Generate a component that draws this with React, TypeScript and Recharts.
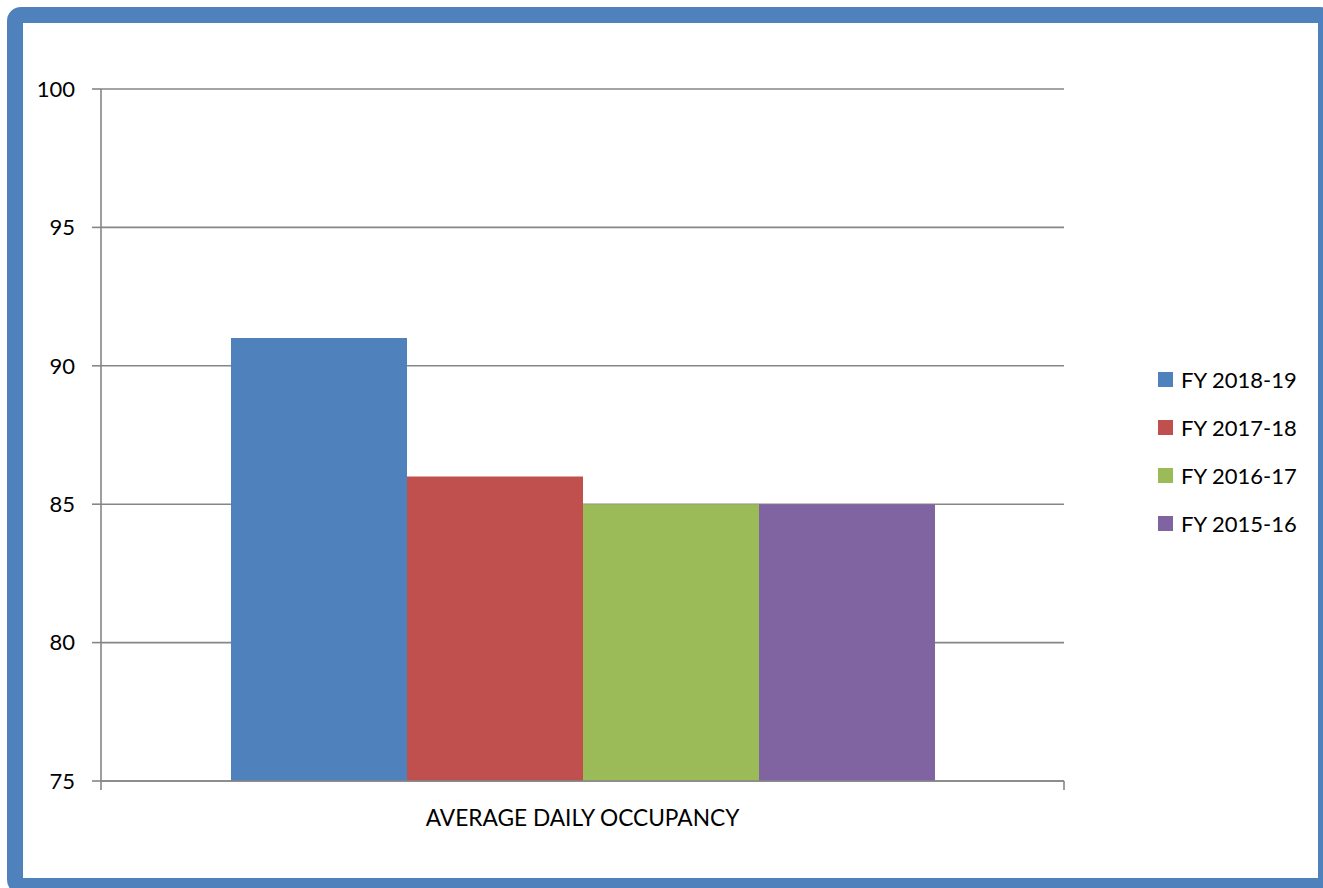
import React from 'react'
import { BarChart, Bar, XAxis, YAxis, CartesianGrid, Legend } from 'recharts'

const categories = ['AVERAGE DAILY OCCUPANCY']
const seriesNames = ['FY 2018-19', 'FY 2017-18', 'FY 2016-17', 'FY 2015-16']
const seriesValues = [91, 86, 85, 85]
const seriesColors = ['#4F81BD', '#C0504D', '#9BBB59', '#8064A2']
const yTicks = [75, 80, 85, 90, 95, 100]

const data = categories.map((name) => {
  const row: Record<string, string | number> = { name }
  seriesNames.forEach((s, i) => { row[s] = seriesValues[i] })
  return row
})

const font = 'Lato, "Open Sans", sans-serif'
const grey = '#868686'
const gap = 29

// category label plus the tick marks at both ends of the category band
const CategoryTick = (props: any) => {
  const { x, y, width, payload } = props
  const band = width / categories.length
  const left = x - band / 2
  const right = x + band / 2
  return (
    <g>
      <line x1={left} x2={left} y1={y - gap} y2={y - gap + 9} stroke={grey} strokeWidth={1.6} />
      <line x1={right} x2={right} y1={y - gap} y2={y - gap + 9} stroke={grey} strokeWidth={1.6} />
      <text x={x} y={y} dy="0.71em" textAnchor="middle" fill="#000" fontSize={22.7} fontFamily={font}>
        {payload.value}
      </text>
    </g>
  )
}

const LegendBox = () => (
  <div style={{ paddingLeft: 94, paddingTop: 15, fontFamily: font, fontSize: 22, color: '#000' }}>
    {seriesNames.map((s, i) => (
      <div key={s} style={{ height: 47.8, display: 'flex', alignItems: 'center' }}>
        <span style={{ width: 15, height: 15, background: seriesColors[i], marginRight: 8, display: 'inline-block' }} />
        <span>{s}</span>
      </div>
    ))}
  </div>
)

export default function App() {
  return (
    <div style={{ position: 'absolute', left: 0, top: 0, width: 1323, height: 888, overflow: 'hidden', background: '#fff' }}>
      <div style={{ position: 'absolute', left: 7, top: 7, width: 1295, height: 855, border: '16px solid #4F81BD', borderRadius: 14 }} />
      <div style={{ position: 'absolute', left: 0, top: 0 }}>
        <BarChart width={1323} height={888} data={data} barGap={0} barCategoryGap="13.5%"
          margin={{ top: 89, right: 0, bottom: 67, left: 21 }}>
          <CartesianGrid vertical={false} stroke={grey} strokeWidth={1.6} />
          <XAxis dataKey="name" tickLine={false} axisLine={{ stroke: grey, strokeWidth: 1.6 }} tickSize={0}
            tickMargin={gap} height={40} tick={<CategoryTick />} />
          <YAxis domain={[75, 100]} ticks={yTicks} width={80} allowDataOverflow tickSize={9} tickMargin={17}
            axisLine={{ stroke: grey, strokeWidth: 1.6 }} tickLine={{ stroke: grey, strokeWidth: 1.6 }}
            tick={{ fill: '#000', fontSize: 22, fontFamily: font }} />
          <Legend layout="vertical" align="right" verticalAlign="middle" width={259} content={() => <LegendBox />} />
          {seriesNames.map((s, i) => (
            <Bar key={s} dataKey={s} fill={seriesColors[i]} isAnimationActive={false} />
          ))}
        </BarChart>
      </div>
    </div>
  )
}
